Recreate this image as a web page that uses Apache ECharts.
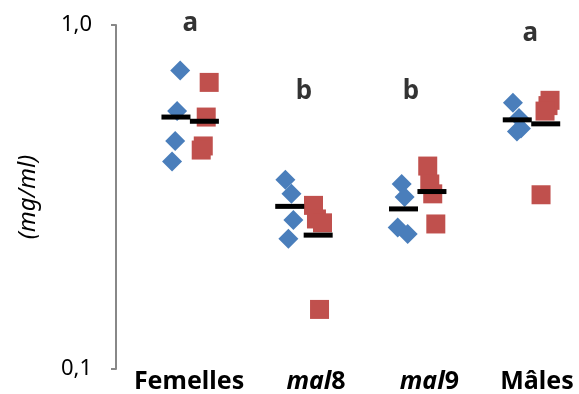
<!DOCTYPE html>
<html>
<head>
<meta charset="utf-8">
<script src="https://cdn.jsdelivr.net/npm/echarts@6/dist/echarts.min.js"></script>
<style>
  html, body { margin: 0; padding: 0; background: #fff; }
  #chart { width: 579px; height: 394px; }
</style>
</head>
<body>
<div id="chart"></div>
<script>
const categories = ['Femelles', 'mal8', 'mal9', 'Mâles']
const catPos = [1, 2, 3, 4]
const labelPos = [0.99, 2.106, 3.102, 4.048]

// individual values (mg/ml), blue diamonds / red squares
const blueValues = [
  [0.738, 0.562, 0.460, 0.401],
  [0.355, 0.323, 0.271, 0.239],
  [0.345, 0.316, 0.258, 0.247],
  [0.594, 0.537, 0.500, 0.490]
]
const blueJitter = [
  [-0.088, -0.115, -0.132, -0.159],
  [-0.163, -0.110, -0.093, -0.137],
  [-0.141, -0.115, -0.176, -0.088],
  [-0.163, -0.110, -0.093, -0.128]
]
const redValues = [
  [0.681, 0.540, 0.445, 0.433],
  [0.299, 0.273, 0.266, 0.149],
  [0.389, 0.345, 0.323, 0.264],
  [0.604, 0.583, 0.562, 0.321]
]
const redJitter = [
  [0.167, 0.141, 0.115, 0.097],
  [0.084, 0.110, 0.163, 0.137],
  [0.088, 0.106, 0.132, 0.159],
  [0.163, 0.145, 0.119, 0.084]
]
const blueMeans = [0.540, 0.297, 0.292, 0.530]
const redMeans = [0.525, 0.245, 0.328, 0.516]
const meanOffset = 0.125

const letters = ['a', 'b', 'b', 'a']
const letterY = [1.007, 0.642, 0.642, 0.945]
const letterX = [1.0, 2.0, 2.94, 3.99]

const FONT = 'Noto Sans'

function points(values, jitter) {
  const out = []
  values.forEach((arr, i) => {
    arr.forEach((v, j) => out.push([catPos[i] + jitter[i][j], v]))
  })
  return out
}

const chart = echarts.init(document.getElementById('chart'))
chart.setOption({
  animation: false,
  grid: { left: 116, right: 2, top: 25, bottom: 23 },
  xAxis: {
    type: 'value',
    min: 0.348,
    max: 4.4,
    axisLine: { show: false },
    axisTick: { show: false },
    splitLine: { show: false },
    axisLabel: {
      customValues: labelPos,
      margin: 0,
      color: '#000',
      fontFamily: FONT,
      fontSize: 25,
      fontWeight: 'bold',
      formatter: (v) => {
        let idx = 0
        labelPos.forEach((p, i) => { if (Math.abs(p - v) < Math.abs(labelPos[idx] - v)) idx = i })
        const name = categories[idx]
        if (name.indexOf('mal') === 0) return '{i|mal}{n|' + name.slice(3) + '}'
        return name
      },
      rich: {
        i: { fontFamily: FONT, fontSize: 25, fontWeight: 'bold', fontStyle: 'italic', color: '#000' },
        n: { fontFamily: FONT, fontSize: 25, fontWeight: 'bold', color: '#000' }
      }
    }
  },
  yAxis: {
    type: 'log',
    logBase: 10,
    min: 0.1,
    max: 1,
    name: '(mg/ml)',
    nameLocation: 'middle',
    nameRotate: 90,
    nameGap: 76,
    nameTextStyle: { fontFamily: FONT, fontSize: 24, fontStyle: 'italic', color: '#000' },
    axisLine: { show: true, lineStyle: { color: '#888', width: 2 } },
    axisTick: { show: true, length: 5, lineStyle: { color: '#888', width: 2 } },
    splitLine: { show: false },
    axisLabel: {
      margin: 24,
      color: '#000',
      fontFamily: FONT,
      fontSize: 22,
      formatter: (v) => v.toFixed(1).replace('.', ',')
    }
  },
  series: [
    {
      type: 'scatter',
      symbol: 'diamond',
      symbolSize: 20,
      itemStyle: { color: '#4A7EBB', opacity: 1 },
      data: points(blueValues, blueJitter),
      z: 2
    },
    {
      type: 'scatter',
      symbol: 'rect',
      symbolSize: 19,
      itemStyle: { color: '#C0504D', opacity: 1 },
      data: points(redValues, redJitter),
      z: 3
    },
    {
      type: 'scatter',
      symbol: 'rect',
      symbolSize: [29, 5],
      itemStyle: { color: '#000', opacity: 1 },
      data: blueMeans.map((v, i) => [catPos[i] - meanOffset, v])
        .concat(redMeans.map((v, i) => [catPos[i] + meanOffset, v])),
      z: 4
    },
    {
      type: 'scatter',
      symbolSize: 0,
      clip: false,
      silent: true,
      label: {
        show: true,
        position: 'inside',
        color: '#000',
        fontFamily: FONT,
        fontSize: 26,
        fontWeight: 'bold',
        formatter: (p) => letters[p.dataIndex]
      },
      data: letterX.map((x, i) => [x, letterY[i]]),
      z: 5
    }
  ]
})
</script>
</body>
</html>
